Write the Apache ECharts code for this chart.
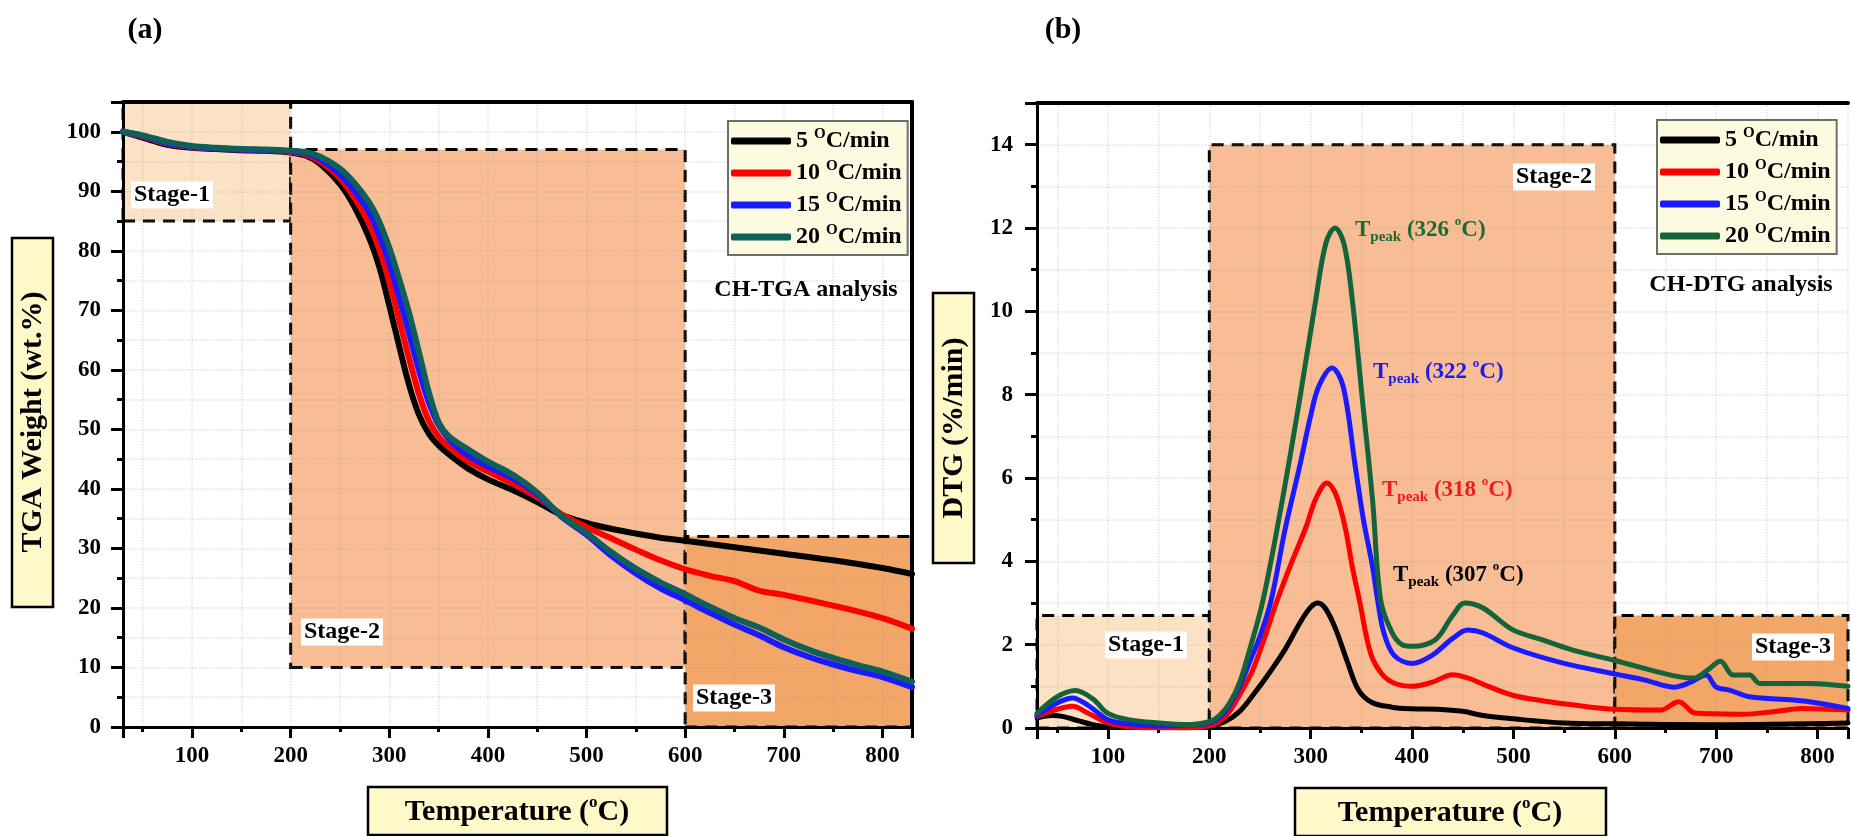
<!DOCTYPE html>
<html>
<head>
<meta charset="utf-8">
<title>CH TGA / DTG</title>
<script src="https://cdn.jsdelivr.net/npm/echarts@6/dist/echarts.min.js"></script>
<style>
html, body { margin: 0; padding: 0; background: #fff; }
#chart { width: 1851px; height: 836px; }
</style>
</head>
<body>
<div id="chart"></div>
<script>
var FONT = 'Liberation Serif';

// heating rates (legend names) and colours
var rateNames = ['5 °C/min', '10 °C/min', '15 °C/min', '20 °C/min'];
var colorsA = ['#000000', '#ff0000', '#1a1aff', '#10605a'];
var colorsB = ['#000000', '#ff0000', '#1a1aff', '#13643a'];

// (a) TGA weight (wt.%) vs temperature
var tga5 = [[30,100],[50,99.0],[75,97.8],[100,97.3],[125,97.1],[150,96.9],[175,96.8],[200,96.5],[215,96.0],[230,94.6],[250,91.2],[265,87.3],[280,82.0],[290,77.2],[300,70.8],[310,64.0],[320,57.5],[330,52.5],[340,49.3],[350,47.3],[365,45.2],[380,43.4],[400,41.6],[425,39.8],[450,37.8],[475,35.6],[500,34.3],[525,33.3],[550,32.5],[575,31.8],[600,31.3],[650,30.2],[700,29.1],[750,28.0],[800,26.7],[830,25.7]];
var tga10 = [[30,100],[50,99.2],[75,98.0],[100,97.4],[125,97.2],[150,97.0],[175,96.9],[200,96.6],[215,96.2],[230,95.0],[250,92.2],[265,88.8],[280,84.4],[290,80.2],[300,74.8],[310,68.5],[320,62.0],[330,56.0],[340,51.5],[350,48.8],[365,46.4],[380,44.6],[400,42.9],[425,40.9],[450,38.6],[475,35.7],[500,33.6],[525,31.7],[550,29.8],[575,28.0],[600,26.5],[625,25.4],[650,24.5],[675,22.9],[700,22.2],[750,20.4],[800,18.3],[830,16.5]];
var tga15 = [[30,100],[50,99.3],[75,98.1],[100,97.5],[125,97.2],[150,97.0],[175,96.9],[200,96.7],[215,96.4],[230,95.4],[250,92.9],[265,90.0],[280,86.4],[290,82.6],[300,78.0],[310,72.3],[320,66.2],[330,60.0],[340,54.6],[350,50.8],[365,47.6],[380,45.6],[400,43.8],[425,41.8],[450,39.1],[475,35.3],[500,32.3],[525,28.8],[550,25.8],[575,23.3],[600,21.3],[625,19.2],[650,17.2],[675,15.4],[700,13.4],[725,11.8],[750,10.5],[775,9.4],[800,8.4],[830,6.7]];
var tga20 = [[30,100],[50,99.4],[75,98.3],[100,97.6],[125,97.3],[150,97.1],[175,97.0],[200,96.8],[215,96.6],[230,95.8],[250,93.8],[265,91.3],[280,88.0],[290,84.8],[300,80.5],[310,75.3],[320,69.6],[330,63.0],[340,56.3],[350,51.2],[360,48.9],[380,46.6],[400,44.6],[425,42.4],[450,39.4],[475,35.4],[500,32.6],[525,29.4],[550,26.6],[575,24.3],[600,22.3],[625,20.2],[650,18.3],[675,16.7],[700,14.7],[725,13.0],[750,11.6],[775,10.4],[800,9.3],[830,7.6]];

// (b) DTG (%/min) vs temperature
var dtg5 = [[30,0.24],[45,0.3],[55,0.28],[70,0.18],[85,0.08],[100,0.03],[130,0.01],[170,0.01],[200,0.05],[215,0.15],[230,0.4],[245,0.85],[260,1.35],[275,1.9],[290,2.55],[300,2.9],[307,3.0],[315,2.85],[325,2.35],[336,1.6],[347,0.92],[360,0.62],[380,0.5],[400,0.46],[425,0.45],[450,0.4],[470,0.3],[500,0.22],[550,0.12],[600,0.1],[700,0.08],[830,0.12]];
var dtg10 = [[30,0.28],[50,0.45],[65,0.52],[80,0.36],[100,0.12],[120,0.03],[150,0.0],[180,0.0],[200,0.05],[210,0.15],[220,0.4],[230,0.8],[243,1.4],[255,2.2],[266,3.0],[280,3.9],[295,4.8],[305,5.5],[316,5.88],[323,5.7],[329,5.3],[335,4.7],[341,3.87],[348,3.07],[359,1.8],[370,1.3],[382,1.08],[400,1.0],[420,1.1],[440,1.28],[455,1.2],[475,1.0],[500,0.78],[530,0.65],[560,0.55],[600,0.45],[645,0.43],[663,0.63],[679,0.36],[700,0.34],[725,0.33],[760,0.4],[784,0.47],[810,0.45],[830,0.43]];
var dtg15 = [[30,0.3],[50,0.6],[65,0.72],[80,0.55],[100,0.2],[120,0.1],[150,0.05],[180,0.07],[200,0.12],[210,0.25],[220,0.55],[230,1.0],[240,1.6],[250,2.2],[261,3.07],[275,4.8],[289,6.27],[300,7.5],[308,8.2],[321,8.64],[332,8.2],[344,6.27],[352,5.0],[361,3.87],[366,3.07],[372,2.3],[382,1.75],[400,1.55],[420,1.75],[440,2.15],[455,2.35],[470,2.28],[500,1.92],[550,1.55],[600,1.3],[630,1.15],[658,0.98],[675,1.1],[690,1.27],[700,0.98],[713,0.91],[733,0.75],[776,0.67],[800,0.6],[830,0.47]];
var dtg20 = [[30,0.35],[50,0.75],[68,0.9],[85,0.7],[100,0.35],[120,0.2],[150,0.12],[180,0.08],[200,0.15],[210,0.3],[220,0.6],[230,1.1],[240,1.9],[253,3.07],[272,5.47],[289,7.87],[305,10.28],[315,11.64],[324,12.0],[333,11.6],[341,10.28],[351,7.87],[361,5.47],[369,3.07],[380,2.3],[390,2.0],[400,1.96],[423,2.12],[440,2.7],[452,3.0],[470,2.88],[499,2.36],[528,2.12],[557,1.88],[600,1.62],[655,1.27],[678,1.2],[692,1.4],[704,1.6],[717,1.27],[733,1.27],[743,1.07],[792,1.07],[830,1.0]];

// stage bands
var stageX = [30, 200, 600, 830];
var stageLowA = [85, 10, 0];
var stageHighA = [105, 97, 32];
var stageLowB = [0, 0, 0];
var stageHighB = [2.7, 14, 2.7];
var stageFill = ['#fce2c4', '#f8bd95', '#f2a769'];

// peak annotations in (b)
var peakTexts = ['307', '318', '322', '326'];
var peakColors = ['#000000', '#ee1c1c', '#1c1cee', '#1b6b38'];

var gridColor = 'rgba(150,150,150,0.28)';

function xAxisFor(g) {
    return {
        type: 'value', gridIndex: g, min: 30, max: 830, splitNumber: 8, z: 3,
        axisLine: { show: true, onZero: false, lineStyle: { color: '#000', width: 3 } },
        axisTick: { show: true, length: 11, lineStyle: { color: '#000', width: 3 } },
        minorTick: { show: true, splitNumber: 2, length: 5, lineStyle: { color: '#000', width: 3 } },
        axisLabel: {
            formatter: function (v) { return v % 100 === 0 ? String(v) : ''; },
            fontSize: 23, fontWeight: 'bold', fontFamily: FONT, color: '#000', margin: 18
        },
        splitLine: { show: true, lineStyle: { color: gridColor, type: 'dotted', width: 1.5 } },
        minorSplitLine: { show: true, lineStyle: { color: gridColor, type: 'dotted', width: 1.5 } }
    };
}
function frameAxis(g, pos, isX) {
    var a = {
        type: 'value', gridIndex: g, position: pos, z: 3,
        axisLine: { show: true, onZero: false, lineStyle: { color: '#000', width: 4 } },
        axisTick: { show: false }, axisLabel: { show: false }, splitLine: { show: false }
    };
    if (isX) { a.min = 30; a.max = 830; }
    return a;
}
function yAxisFor(g, max, step, margin) {
    return {
        type: 'value', gridIndex: g, min: 0, max: max, interval: step, z: 3,
        axisLine: { show: true, onZero: false, lineStyle: { color: '#000', width: 3 } },
        axisTick: { show: true, length: 12, lineStyle: { color: '#000', width: 3 } },
        minorTick: { show: true, splitNumber: 2, length: 6, lineStyle: { color: '#000', width: 3 } },
        axisLabel: {
            formatter: function (v) { return v % step === 0 ? String(v) : ''; },
            fontSize: 23, fontWeight: 'bold', fontFamily: FONT, color: '#000', margin: margin
        },
        splitLine: { show: true, lineStyle: { color: gridColor, type: 'dotted', width: 1.5 } },
        minorSplitLine: { show: true, lineStyle: { color: gridColor, type: 'dotted', width: 1.5 } }
    };
}

function stageSeries(xi, yi, low, high) {
    var areas = [];
    for (var i = 0; i < 3; i++) {
        areas.push([
            { xAxis: stageX[i], yAxis: low[i], itemStyle: { color: stageFill[i] } },
            { xAxis: stageX[i + 1], yAxis: high[i] }
        ]);
    }
    return {
        type: 'line', name: 'stages', xAxisIndex: xi, yAxisIndex: yi, data: [],
        markArea: {
            silent: true, label: { show: false },
            itemStyle: { borderColor: '#000', borderWidth: 3, borderType: [12, 8] },
            data: areas
        }
    };
}

function curve(name, data, color, xi, yi, w) {
    return {
        type: 'line', name: name, data: data, xAxisIndex: xi, yAxisIndex: yi,
        smooth: 0.35, showSymbol: false, symbol: 'none', z: 4, color: color,
        lineStyle: { color: color, width: w, cap: 'round', join: 'round' },
        itemStyle: { color: color }
    };
}

function rateLabel(name) {
    var p = name.split(' °');
    return '{t|' + p[0] + ' }{s|O}{t|' + p[1] + '}';
}
function legendFor(left, top, colors) {
    return {
        orient: 'vertical', left: left, top: top, selectedMode: false,
        data: rateNames.map(function (n, i) { return { name: n, itemStyle: { color: colors[i] } }; }),
        icon: 'roundRect', itemWidth: 60, itemHeight: 7, itemGap: 6,
        padding: [6, 6, 6, 3],
        backgroundColor: '#fdfbdf', borderColor: '#6e6e6e', borderWidth: 2,
        formatter: rateLabel,
        textStyle: {
            color: '#000',
            rich: {
                t: { fontSize: 24, fontWeight: 'bold', fontFamily: FONT, color: '#000', lineHeight: 28 },
                s: { fontSize: 15, fontWeight: 'bold', fontFamily: FONT, color: '#000', lineHeight: 28, verticalAlign: 'top' }
            }
        }
    };
}

var chart = echarts.init(document.getElementById('chart'));

var series = [stageSeries(0, 0, stageLowA, stageHighA), stageSeries(2, 2, stageLowB, stageHighB)];
var tgaSets = [tga5, tga10, tga15, tga20];
var dtgSets = [dtg5, dtg10, dtg15, dtg20];
for (var i = 0; i < 4; i++) series.push(curve(rateNames[i], tgaSets[i], colorsA[i], 0, 0, 6));
for (var j = 0; j < 4; j++) series.push(curve(rateNames[j], dtgSets[j], colorsB[j], 2, 2, 5));

function plainText(x, y, txt, size, extra) {
    var st = { text: txt, fontSize: size, fontWeight: 'bold', fontFamily: FONT, fill: '#000', align: 'center', verticalAlign: 'middle' };
    for (var k in extra) st[k] = extra[k];
    return { type: 'text', x: x, y: y, z: 100, style: st };
}
function titleBox(x, y, w, h) {
    return { type: 'rect', z: 99, shape: { x: x, y: y, width: w, height: h }, style: { fill: '#fff8c8', stroke: '#000', lineWidth: 2.5 } };
}
function tempTitle(x, y) {
    return {
        type: 'text', x: x, y: y, z: 100,
        style: {
            text: '{t|Temperature (}{s|o}{t|C)}', align: 'center', verticalAlign: 'middle', fill: '#000',
            rich: {
                t: { fontSize: 30, fontWeight: 'bold', fontFamily: FONT, lineHeight: 36 },
                s: { fontSize: 17, fontWeight: 'bold', fontFamily: FONT, lineHeight: 36, verticalAlign: 'top' }
            }
        }
    };
}
function stageLabel(x, y, txt) {
    return plainText(x, y, txt, 24, { backgroundColor: '#ffffff', padding: [2, 3, 1, 3] });
}
function peakLabel(x, y, t, color) {
    return {
        type: 'text', x: x, y: y, z: 100,
        style: {
            text: '{b|T}{sub|peak}{b| (' + t + ' }{sup|o}{b|C)}', align: 'left', verticalAlign: 'middle', fill: color,
            rich: {
                b: { fontSize: 23, fontWeight: 'bold', fontFamily: FONT, lineHeight: 30 },
                sub: { fontSize: 15, fontWeight: 'bold', fontFamily: FONT, lineHeight: 30, verticalAlign: 'bottom' },
                sup: { fontSize: 13, fontWeight: 'bold', fontFamily: FONT, lineHeight: 30, verticalAlign: 'top' }
            }
        }
    };
}

var graphics = [
    plainText(145, 30, '(a)', 30),
    plainText(1063, 30, '(b)', 30),
    titleBox(12, 238, 41, 369),
    plainText(33, 422, 'TGA Weight (wt.%)', 30, {}),
    titleBox(933, 293, 41, 270),
    plainText(954, 428, 'DTG (%/min)', 30, {}),
    titleBox(368, 787, 299, 48),
    tempTitle(517, 812),
    titleBox(1295, 788, 311, 48),
    tempTitle(1450, 813),
    plainText(806, 290, 'CH-TGA analysis', 24),
    plainText(1741, 285, 'CH-DTG analysis', 24),
    stageLabel(172, 195, 'Stage-1'),
    stageLabel(342, 632, 'Stage-2'),
    stageLabel(734, 698, 'Stage-3'),
    stageLabel(1146, 645, 'Stage-1'),
    stageLabel(1554, 177, 'Stage-2'),
    stageLabel(1793, 647, 'Stage-3'),
    peakLabel(1393, 575, peakTexts[0], peakColors[0]),
    peakLabel(1382, 490, peakTexts[1], peakColors[1]),
    peakLabel(1373, 372, peakTexts[2], peakColors[2]),
    peakLabel(1355, 230, peakTexts[3], peakColors[3])
];
// rotate the y titles
graphics[3].rotation = Math.PI / 2;
graphics[5].rotation = Math.PI / 2;

var option = {
    animation: false,
    backgroundColor: '#ffffff',
    grid: [
        { left: 123, top: 102, width: 789, height: 625 },
        { left: 1037, top: 103, width: 814, height: 625 }
    ],
    xAxis: [xAxisFor(0), frameAxis(0, 'top', true), xAxisFor(1), frameAxis(1, 'top', true)],
    yAxis: [yAxisFor(0, 105, 10, 22), frameAxis(0, 'right', false), yAxisFor(1, 15, 2, 24)],
    legend: [legendFor(728, 121, colorsA), legendFor(1657, 120, colorsB)],
    series: series,
    graphic: graphics
};
option.yAxis[1].min = 0;
option.yAxis[1].max = 105;
chart.setOption(option);
</script>
</body>
</html>
